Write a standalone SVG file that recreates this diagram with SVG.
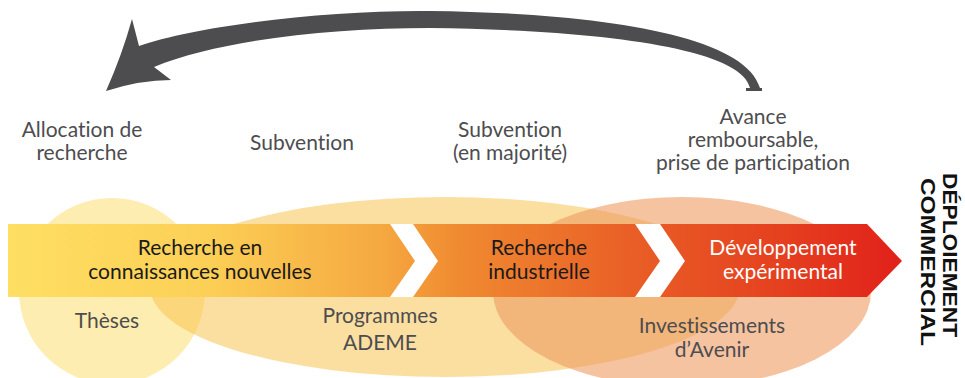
<svg xmlns="http://www.w3.org/2000/svg" width="965" height="378" viewBox="0 0 965 378">
<defs>
<linearGradient id="band" gradientUnits="userSpaceOnUse" x1="8" y1="0" x2="902" y2="0">
<stop offset="0" stop-color="#FEDF63"/>
<stop offset="0.22" stop-color="#FCD056"/>
<stop offset="0.42" stop-color="#F5A840"/>
<stop offset="0.5" stop-color="#F08B31"/>
<stop offset="0.7" stop-color="#E95E26"/>
<stop offset="0.86" stop-color="#E5411F"/>
<stop offset="1" stop-color="#E1201A"/>
</linearGradient>
<style>
.lbl{font-family:Lato,"Noto Sans",sans-serif;font-size:21px;fill:#4D4D4F;text-anchor:middle;font-variant-ligatures:none}
.band{font-family:Lato,"Noto Sans",sans-serif;font-size:21px;fill:#1A1A1A;text-anchor:middle;font-variant-ligatures:none}
.white{fill:#FFFFFF}
.vert{font-family:"Liberation Sans",Arial,sans-serif;font-size:20px;font-weight:bold;fill:#111111}
</style>
</defs>
<rect width="965" height="378" fill="#FFFFFF"/>

<g id="theses">
<circle cx="112" cy="291" r="93" fill="#FEEDB0"/>
</g>
<g id="ademe">
<ellipse cx="445" cy="287" rx="295" ry="90" fill="#F7BF43" opacity="0.5"/>
</g>
<g id="investissements">
<ellipse cx="682" cy="292" rx="189" ry="95" fill="#EE9B61" opacity="0.6"/>
</g>

<g id="band-arrow">
<polygon points="8,224 867,224 902,261 867,297 8,297" fill="url(#band)"/>
<polygon points="390,224 413,224 438,261 413,297 390,297 415,261" fill="#FFFFFF"/>
<polygon points="635,224 660,224 685,261 660,297 635,297 660,261" fill="#FFFFFF"/>
</g>

<g id="connectors">
<path d="M106,91 Q122,55 132,19 L139,46 C200,25 330,10 430,11 C600,13 745,35 760,88 L762,88 L762,91 L746,91 L746,88 L750,88 C742,48 600,30 430,28 C330,28 220,40 154,67 L171,80 Q140,80 106,91 Z" fill="#4D4D4F"/>
</g>

<g id="label-allocation">
<text class="lbl" x="82" y="137">Allocation de</text>
<text class="lbl" x="82" y="160">recherche</text>
</g>
<g id="label-subvention">
<text class="lbl" x="302" y="150">Subvention</text>
</g>
<g id="label-subvention-maj">
<text class="lbl" x="510" y="137">Subvention</text>
<text class="lbl" x="510" y="160">(en majorité)</text>
</g>
<g id="label-avance">
<text class="lbl" x="753" y="124">Avance</text>
<text class="lbl" x="753" y="147">remboursable,</text>
<text class="lbl" x="753" y="170">prise de participation</text>
</g>

<g id="stage-recherche-connaissances">
<text class="band" x="200" y="255">Recherche en</text>
<text class="band" x="200" y="279">connaissances nouvelles</text>
</g>
<g id="stage-recherche-industrielle">
<text class="band" x="539" y="255">Recherche</text>
<text class="band" x="539" y="279">industrielle</text>
</g>
<g id="stage-developpement">
<text class="band white" x="783" y="255">Développement</text>
<text class="band white" x="783" y="279">expérimental</text>
</g>

<g id="label-theses">
<text class="lbl" x="107" y="328">Thèses</text>
</g>
<g id="label-ademe">
<text class="lbl" x="380" y="323">Programmes</text>
<text class="lbl" x="380" y="350">ADEME</text>
</g>
<g id="label-invest">
<text class="lbl" x="712" y="333">Investissements</text>
<text class="lbl" x="712" y="357">d’Avenir</text>
</g>

<g id="deploiement">
<text class="vert" transform="translate(943,173) rotate(90)" textLength="164" lengthAdjust="spacingAndGlyphs">DÉPLOIEMENT</text>
<text class="vert" transform="translate(921,178) rotate(90)" textLength="168" lengthAdjust="spacingAndGlyphs">COMMERCIAL</text>
</g>
</svg>
